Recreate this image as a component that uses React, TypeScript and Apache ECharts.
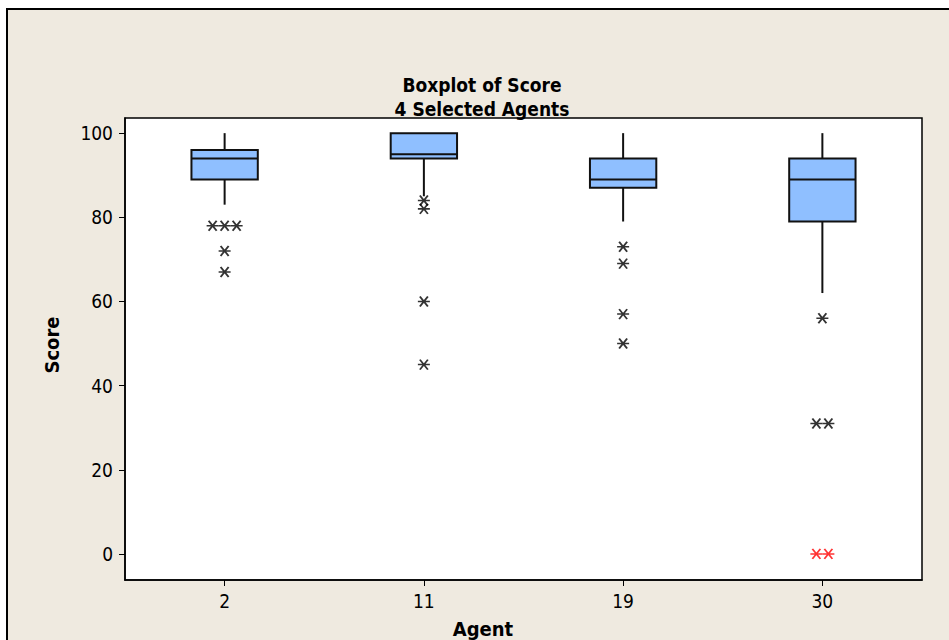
import React, { useEffect, useRef } from "react";
import * as echarts from "echarts";

const categories = ["2", "11", "19", "30"];
const whiskerLow = [83, 85, 79, 62];
const q1 = [89, 94, 87, 79];
const median = [94, 95, 89, 89];
const q3 = [96, 100, 94, 94];
const whiskerHigh = [100, 100, 100, 100];

const outliers: number[][] = [
  [78, 78, 78, 72, 67],
  [84, 82, 60, 45],
  [73, 69, 57, 50],
  [56, 31, 31],
];
const flaggedOutliers: number[][] = [[], [], [], [0, 0]];

const yTicks = [0, 20, 40, 60, 80, 100];

const FONT = "'DejaVu Sans Condensed', 'DejaVu Sans', sans-serif";
const STAR = "path://M0,5L12,5M2,0L10,10M2,10L10,0";

function buildOutlierData(lists: number[][]) {
  const out: any[] = [];
  lists.forEach((vals, i) => {
    const counts = new Map<number, number>();
    vals.forEach((v) => counts.set(v, (counts.get(v) || 0) + 1));
    counts.forEach((n, v) => {
      for (let k = 0; k < n; k++) {
        out.push({ value: [i, v], symbolOffset: [(k - (n - 1) / 2) * 12, 0] });
      }
    });
  });
  return out;
}

export default function App() {
  const ref = useRef<HTMLDivElement>(null);
  useEffect(() => {
    document.body.style.margin = "0";
    const chart = echarts.init(ref.current!, null, { renderer: "svg" });
    const boxData = categories.map((_, i) => [i, whiskerLow[i], q1[i], median[i], q3[i], whiskerHigh[i]]);
    const txt = (text: string, x: number, y: number, size: number, rotation = 0) => ({
      type: "text",
      x,
      y,
      rotation,
      style: {
        text,
        font: `bold ${size}px ${FONT}`,
        fill: "#000",
        align: "center",
        verticalAlign: "middle",
        textAlign: "center",
        textVerticalAlign: "middle",
      },
    });
    chart.setOption({
      animation: false,
      backgroundColor: "#ffffff",
      graphic: [
        {
          type: "rect",
          z: -100,
          shape: { x: 7, y: 9, width: 960, height: 700 },
          style: { fill: "#EFEAE0", stroke: "#000", lineWidth: 2 },
        },
        txt("Boxplot of Score", 482, 85, 19),
        txt("4 Selected Agents", 482, 109, 19),
        txt("Score", 52, 345, 20, Math.PI / 2),
        txt("Agent", 483, 629, 20),
      ],
      grid: {
        left: 125,
        right: 27,
        top: 118,
        bottom: 60,
        show: true,
        backgroundColor: "#ffffff",
        borderColor: "#000",
        borderWidth: 1.5,
      },
      xAxis: {
        type: "category",
        data: categories,
        boundaryGap: true,
        axisLine: { show: true, onZero: false, lineStyle: { color: "#000", width: 1.5 } },
        axisTick: { show: true, alignWithLabel: true, length: 6, lineStyle: { color: "#000" } },
        axisLabel: { color: "#000", fontSize: 19, fontFamily: FONT, margin: 11 },
        splitLine: { show: false },
      },
      yAxis: {
        type: "value",
        min: -6.2,
        max: 103.6,
        axisLine: { show: true, lineStyle: { color: "#000", width: 1.5 } },
        axisTick: { show: true, length: 6, customValues: yTicks, lineStyle: { color: "#000" } },
        axisLabel: { color: "#000", fontSize: 19, fontFamily: FONT, margin: 12, customValues: yTicks },
        splitLine: { show: false },
      },
      series: [
        {
          type: "custom",
          data: boxData,
          encode: { x: 0, y: [1, 2, 3, 4, 5] },
          renderItem: (params: any, api: any) => {
            const i = api.value(0);
            const x = api.coord([i, 0])[0];
            const yLow = api.coord([i, api.value(1)])[1];
            const yQ1 = api.coord([i, api.value(2)])[1];
            const yMed = api.coord([i, api.value(3)])[1];
            const yQ3 = api.coord([i, api.value(4)])[1];
            const yHigh = api.coord([i, api.value(5)])[1];
            const bw = api.size([1, 0])[0] * 0.333;
            const ls = { stroke: "#111", lineWidth: 2 };
            return {
              type: "group",
              children: [
                { type: "line", shape: { x1: x, y1: yLow, x2: x, y2: yQ1 }, style: ls },
                { type: "line", shape: { x1: x, y1: yQ3, x2: x, y2: yHigh }, style: ls },
                {
                  type: "rect",
                  shape: { x: x - bw / 2, y: yQ3, width: bw, height: yQ1 - yQ3 },
                  style: { fill: "#8FBFFF", stroke: "#111", lineWidth: 2 },
                },
                { type: "line", shape: { x1: x - bw / 2, y1: yMed, x2: x + bw / 2, y2: yMed }, style: ls },
              ],
            };
          },
          z: 2,
        },
        {
          type: "scatter",
          data: buildOutlierData(outliers),
          symbol: STAR,
          symbolSize: [12, 10],
          itemStyle: { color: "rgba(0,0,0,0)", borderColor: "#000", borderWidth: 1.7 },
          z: 3,
        },
        {
          type: "scatter",
          data: buildOutlierData(flaggedOutliers),
          symbol: STAR,
          symbolSize: [12, 10],
          itemStyle: { color: "rgba(0,0,0,0)", borderColor: "#ff0000", borderWidth: 1.7 },
          z: 3,
        },
      ],
    });
    return () => chart.dispose();
  }, []);
  return <div ref={ref} style={{ width: 949, height: 640 }} />;
}
